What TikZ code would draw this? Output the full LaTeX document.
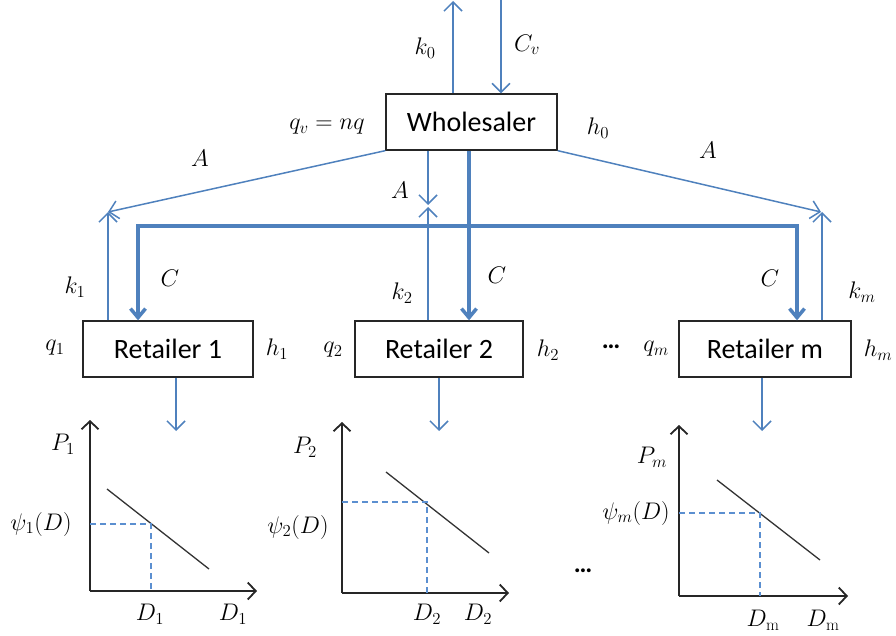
\RequirePackage{fix-cm}
\documentclass[tikz,border=0pt]{standalone}
\usepackage{fontspec}
\newfontfamily\boxfont{Carlito}
\usetikzlibrary{arrows.meta}
\definecolor{lblue}{RGB}{79,129,189}
\definecolor{dblue}{RGB}{91,143,208}
\begin{document}
\begin{tikzpicture}[x=1pt,y=-1pt,
  box/.style={draw=black!85, line width=1.3pt, fill=white, minimum height=56pt, inner sep=0pt, font=\boxfont\fontsize{28}{32}\selectfont},
  thinarr/.style={draw=lblue, line width=1.5pt, -{Straight Barb[length=9pt,width=18pt,line width=1.5pt]}},
  thickarr/.style={draw=lblue, line width=3.5pt, -{Straight Barb[length=9pt,width=15pt,line width=3.5pt]}},
  axis/.style={draw=black!85, line width=2pt, -{Straight Barb[length=8pt,width=17pt,line width=1.8pt]}},
  curve/.style={draw=black!80, line width=1.3pt},
  dashln/.style={draw=dblue, line width=1.2pt, dash pattern=on 6pt off 4pt},
  lab/.style={font=\fontsize{24}{28}\selectfont, inner sep=0pt},
  dots/.style={font=\boxfont\fontsize{26}{30}\selectfont, inner sep=0pt}
]
\useasboundingbox (0,0) rectangle (896,636);

% boxes
\node[box, minimum width=171pt] (W) at (471.5,122) {Wholesaler};
\node[box, minimum width=170pt] (R1) at (168,349) {Retailer 1};
\node[box, minimum width=168pt] (R2) at (439,349) {Retailer 2};
\node[box, minimum width=172pt] (Rm) at (765,349) {Retailer m};

% coordinates
\coordinate (k0top) at (453,1);
\coordinate (cvtop) at (501,0);
\coordinate (a1) at (108,212);
\coordinate (a2) at (428,205);
\coordinate (a2b) at (428,207);
\coordinate (am) at (821,212);
\coordinate (amk) at (822,212);
\coordinate (cmid) at (469,226);
\coordinate (cb1) at (138,226);
\coordinate (cbm) at (797,226);
\coordinate (d1) at (176,431);
\coordinate (d2) at (439,431);
\coordinate (dm) at (762,431);

% wholesaler arrows
\draw[thinarr] (W.north -| k0top) -- (k0top);
\draw[thinarr] (cvtop) -- (W.north -| cvtop);
\draw[thinarr] (W.south west) -- (a1);
\draw[thinarr] (R1.north -| a1) -- (a1);
\draw[thinarr] (W.south -| a2) -- (a2);
\draw[thinarr] (R2.north -| a2b) -- (a2b);
\draw[thinarr] (W.south east) -- (am);
\draw[thinarr] (Rm.north -| amk) -- (amk);

% C flows
\draw[thickarr] (W.south -| cmid) -- (R2.north -| cmid);
\draw[thickarr] (cmid) -- (cb1) -- (R1.north -| cb1);
\draw[thickarr] (cmid) -- (cbm) -- (Rm.north -| cbm);

% down arrows
\draw[thinarr] (R1.south -| d1) -- (d1);
\draw[thinarr] (R2.south -| d2) -- (d2);
\draw[thinarr] (Rm.south -| dm) -- (dm);

% labels
\node[lab] (lk0) at (425,48) {$k_0$};
\node[lab] (lcv) at (527,45) {$C_v$};
\node[lab] (lqv) at (327,127) {$q_v = nq$};
\node[lab] (lh0) at (598,128) {$h_0$};
\node[lab] (lA1) at (200,158) {$A$};
\node[lab] (lA2) at (400,190) {$A$};
\node[lab] (lA3) at (708,150) {$A$};
\node[lab] (lk1) at (75,287) {$k_1$};
\node[lab] (lC1) at (170,278) {$C$};
\node[lab] (lk2) at (402,293) {$k_2$};
\node[lab] (lC2) at (497,275) {$C$};
\node[lab] (lCm) at (770,278) {$C$};
\node[lab] (lkm) at (862,292) {$k_m$};
\node[lab] (lq1) at (55,348) {$q_1$};
\node[lab] (lh1) at (277,349) {$h_1$};
\node[lab] (lq2) at (333,350) {$q_2$};
\node[lab] (lh2) at (548,350) {$h_2$};
\node[dots] (dt1) at (611,347) {\textbf{…}};
\node[lab] (lqm) at (656,349) {$q_m$};
\node[lab] (lhm) at (878,350) {$h_m$};

% plot 1
\draw[axis] (90,591) -- (90,420);
\draw[axis] (90,591) -- (257,591);
\draw[curve] (107,489) -- (209,569);
\draw[dashln] (90,524) -- (151,524) -- (151,591);
\node[lab] (p1) at (63,444) {$P_1$};
\node[lab] (psi1) at (41,524) {$\psi_1(D)$};
\node[lab] (d1a) at (150,614) {$D_1$};
\node[lab] (d1b) at (233,614) {$D_1$};

% plot 2
\draw[axis] (342,593) -- (342,422);
\draw[axis] (342,593) -- (509,593);
\draw[curve] (386,472) -- (489,553);
\draw[dashln] (342,502) -- (427,502) -- (427,593);
\node[lab] (p2) at (305,447) {$P_2$};
\node[lab] (psi2) at (298,527) {$\psi_2(D)$};
\node[lab] (d2a) at (427,614) {$D_2$};
\node[lab] (d2b) at (478,614) {$D_2$};

% plot m
\draw[axis] (679,596) -- (679,425);
\draw[axis] (679,596) -- (848,596);
\draw[curve] (717,480) -- (820,560);
\draw[dashln] (679,513) -- (760,513) -- (760,596);
\node[lab] (pm) at (652,457) {$P_m$};
\node[lab] (psim) at (636,513) {$\psi_m(D)$};
\node[lab] (dma) at (763,620) {$D_{\mathrm{m}}$};
\node[lab] (dmb) at (823,620) {$D_{\mathrm{m}}$};
\node[dots] (dt2) at (583,571) {\textbf{…}};
\end{tikzpicture}
\end{document}
